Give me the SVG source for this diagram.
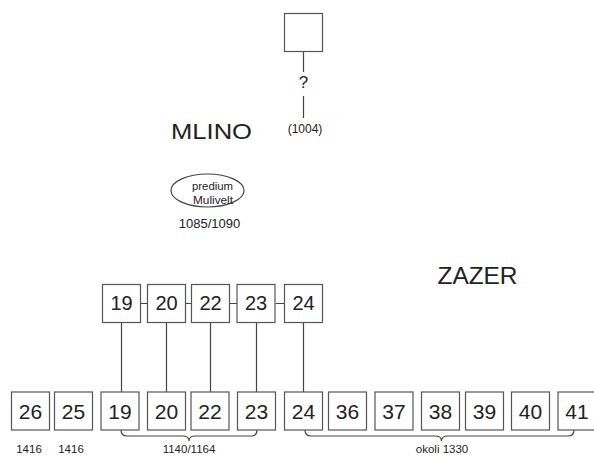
<svg xmlns="http://www.w3.org/2000/svg" width="594" height="456" viewBox="0 0 594 456">
<style>
.box{fill:#fff;stroke:#555;stroke-width:1.2}
.ln{fill:none;stroke:#444;stroke-width:1.2}
.num{font-family:"Liberation Sans",Arial,sans-serif;font-size:20px;fill:#222;text-anchor:middle}
.bnum{font-family:"Liberation Sans",Arial,sans-serif;font-size:21px;fill:#222;text-anchor:middle}
.sm{font-family:"Liberation Sans",Arial,sans-serif;font-size:12px;fill:#222;text-anchor:middle}
.lbl{font-family:"Liberation Sans",Arial,sans-serif;font-size:11.5px;fill:#222;text-anchor:middle}
.big{font-family:"Liberation Sans",Arial,sans-serif;font-size:21.5px;fill:#222}
</style>
<rect width="594" height="456" fill="#fff"/>
<g id="connectors">
<path class="ln" d="M303.5 51V72M303.5 96V118"/>
<path class="ln" d="M140 303.5H148M186 303.5H191M229.5 303.5H237M275.5 303.5H284"/>
<path class="ln" d="M121.5 322V392M166.5 322V392M210.5 322V392M256.5 322V392M303.5 322V392"/>
<path class="ln" d="M121 430Q121 436 127 436H183Q189 436 189 441Q189 436 195 436H251Q257 436 257 430"/>
<path class="ln" d="M305 430Q305 436 311 436H435.5Q441.5 436 441.5 441Q441.5 436 447.5 436H568Q574 436 574 430"/>
</g>
<g id="unknown">
<rect class="box" x="284.5" y="13.5" width="38" height="38"/>
<text class="sm" x="303.5" y="88" style="font-size:17px">?</text>
<text class="sm" x="305" y="133">(1004)</text>
</g>
<g id="mlino">
<text class="big" x="171" y="139" textLength="81" lengthAdjust="spacingAndGlyphs">MLINO</text>
</g>
<g id="predium">
<ellipse class="ln" cx="207.5" cy="190.5" rx="36.5" ry="16.5"/>
<text class="sm" x="212.5" y="190" style="font-size:11.5px" textLength="41" lengthAdjust="spacingAndGlyphs">predium</text>
<text class="sm" x="213" y="204" style="font-size:11.5px" textLength="40" lengthAdjust="spacingAndGlyphs">Mulivelt</text>
<text class="sm" x="209.5" y="228" style="font-size:13px">1085/1090</text>
</g>
<g id="zazer">
<text class="big" x="437.5" y="283.5" style="font-size:23px" textLength="80" lengthAdjust="spacingAndGlyphs">ZAZER</text>
</g>
<g id="t19"><rect class="box" x="102.5" y="284.5" width="38" height="38"/><text class="num" x="121.5" y="310">19</text></g>
<g id="t20"><rect class="box" x="147.5" y="284.5" width="38" height="38"/><text class="num" x="166.5" y="310">20</text></g>
<g id="t22"><rect class="box" x="191.5" y="284.5" width="38" height="38"/><text class="num" x="210.5" y="310">22</text></g>
<g id="t23"><rect class="box" x="237" y="284.5" width="38" height="38"/><text class="num" x="256" y="310">23</text></g>
<g id="t24"><rect class="box" x="284.5" y="284.5" width="38" height="38"/><text class="num" x="303.5" y="310">24</text></g>
<g id="b26"><rect class="box" x="11.5" y="392" width="38" height="38"/><text class="bnum" x="30.5" y="419">26</text></g>
<g id="b25"><rect class="box" x="54.5" y="392" width="38" height="38"/><text class="bnum" x="73.5" y="419">25</text></g>
<g id="b19"><rect class="box" x="101" y="392" width="38" height="38"/><text class="bnum" x="120" y="419">19</text></g>
<g id="b20"><rect class="box" x="147.5" y="392" width="38" height="38"/><text class="bnum" x="166.5" y="419">20</text></g>
<g id="b22"><rect class="box" x="191" y="392" width="38" height="38"/><text class="bnum" x="210" y="419">22</text></g>
<g id="b23"><rect class="box" x="237.5" y="392" width="38" height="38"/><text class="bnum" x="256.5" y="419">23</text></g>
<g id="b24"><rect class="box" x="284.5" y="392" width="38" height="38"/><text class="bnum" x="303.5" y="419">24</text></g>
<g id="b36"><rect class="box" x="328.5" y="392" width="38" height="38"/><text class="bnum" x="347.5" y="419">36</text></g>
<g id="b37"><rect class="box" x="375" y="392" width="38" height="38"/><text class="bnum" x="394" y="419">37</text></g>
<g id="b38"><rect class="box" x="421.5" y="392" width="38" height="38"/><text class="bnum" x="440.5" y="419">38</text></g>
<g id="b39"><rect class="box" x="465.5" y="392" width="38" height="38"/><text class="bnum" x="484.5" y="419">39</text></g>
<g id="b40"><rect class="box" x="511.5" y="392" width="38" height="38"/><text class="bnum" x="530.5" y="419">40</text></g>
<g id="b41"><rect class="box" x="558" y="392" width="38" height="38"/><text class="bnum" x="577" y="419">41</text></g>
<g id="labels">
<text class="lbl" x="29" y="453">1416</text>
<text class="lbl" x="71" y="453">1416</text>
<text class="lbl" x="189" y="453">1140/1164</text>
<text class="lbl" x="442" y="453">okoli 1330</text>
</g>
</svg>
